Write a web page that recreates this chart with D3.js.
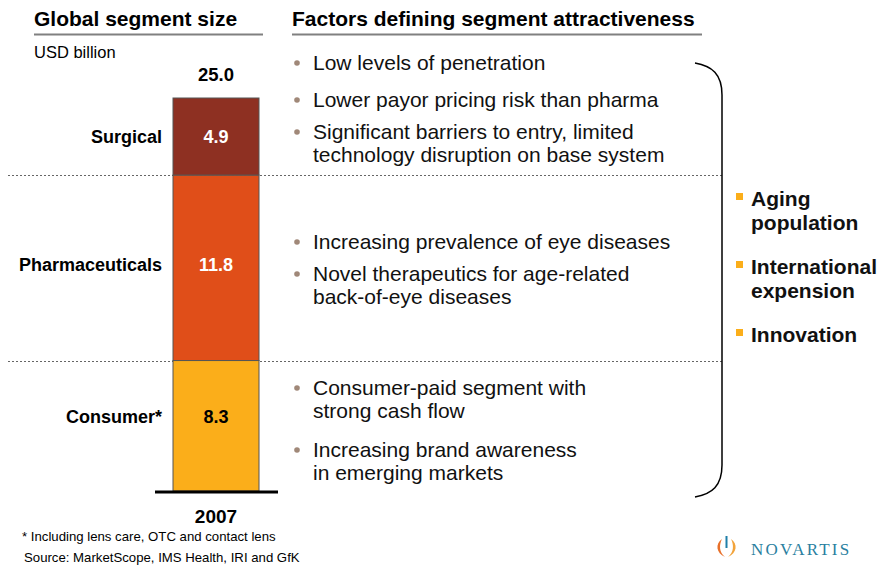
<!DOCTYPE html>
<html>
<head>
<meta charset="utf-8">
<script src="https://cdn.jsdelivr.net/npm/d3@7"></script>
<style>
  body { margin: 0; background: #fff; }
  svg { font-family: Arial, "Liberation Sans", sans-serif; }
</style>
</head>
<body>
<div id="chart"></div>
<script>
// data
var segments = ["Consumer*", "Pharmaceuticals", "Surgical"];
var segmentValues = [8.3, 11.8, 4.9];
var segmentColors = ["#FBAE1A", "#E04E19", "#8E3022"];
var valueColors = ["#000", "#fff", "#fff"];
var totalLabel = "25.0";
var yearLabel = "2007";

var surgicalFactors = [["Low levels of penetration"], ["Lower payor pricing risk than pharma"],
    ["Significant barriers to entry, limited", "technology disruption on base system"]];
var pharmaFactors = [["Increasing prevalence of eye diseases"],
    ["Novel therapeutics for age-related", "back-of-eye diseases"]];
var consumerFactors = [["Consumer-paid segment with", "strong cash flow"],
    ["Increasing brand awareness", "in emerging markets"]];
var drivers = [["Aging", "population"], ["International", "expension"], ["Innovation"]];

var svgWidth = 882;
var svgHeight = 569;

var svg = d3.select("#chart")
    .append("svg")
    .attr("width", svgWidth)
    .attr("height", svgHeight);

// headers
svg.append("text").attr("x", 34).attr("y", 26)
    .attr("font-size", 21).attr("font-weight", "bold").text("Global segment size");
svg.append("line").attr("x1", 34).attr("x2", 263).attr("y1", 34.5).attr("y2", 34.5)
    .attr("stroke", "#808080").attr("stroke-width", 2);
svg.append("text").attr("x", 292).attr("y", 26)
    .attr("font-size", 21).attr("font-weight", "bold").text("Factors defining segment attractiveness");
svg.append("line").attr("x1", 292).attr("x2", 702).attr("y1", 34.5).attr("y2", 34.5)
    .attr("stroke", "#808080").attr("stroke-width", 2);
svg.append("text").attr("x", 34).attr("y", 58)
    .attr("font-size", 16.5).text("USD billion");

// scales
var total = d3.sum(segmentValues);
var yScale = d3.scaleLinear().domain([0, total]).range([491, 98]);
var xScale = d3.scaleBand().domain([yearLabel]).range([173, 259]);

// label nudges (px) so the text sits like the original slide
var labelShift = [-9, -3, 0];

var stacked = [];
var acc = 0;
segmentValues.forEach(function (v, i) {
    stacked.push({ name: segments[i], value: v, y0: acc, y1: acc + v, color: segmentColors[i], tc: valueColors[i], shift: labelShift[i] });
    acc += v;
});

// dotted separators
stacked.slice(0, 2).forEach(function (d) {
    var y = Math.round(yScale(d.y1)) + 0.5;
    svg.append("line").attr("x1", 8).attr("x2", 722).attr("y1", y).attr("y2", y)
        .attr("stroke", "#666").attr("stroke-width", 1).attr("stroke-dasharray", "2,2");
});

var bars = svg.append("g");
bars.selectAll("rect").data(stacked).enter().append("rect")
    .attr("x", xScale(yearLabel))
    .attr("width", xScale.bandwidth())
    .attr("y", d => yScale(d.y1))
    .attr("height", d => yScale(d.y0) - yScale(d.y1))
    .attr("fill", d => d.color)
    .attr("stroke", "#555")
    .attr("stroke-width", 1);

bars.selectAll(".val").data(stacked).enter().append("text")
    .attr("x", xScale(yearLabel) + xScale.bandwidth() / 2)
    .attr("y", d => yScale((d.y0 + d.y1) / 2) + 6.5 + d.shift)
    .attr("text-anchor", "middle")
    .attr("font-size", 18).attr("font-weight", "bold")
    .attr("fill", d => d.tc)
    .text(d => d.value.toFixed(1));

bars.selectAll(".name").data(stacked).enter().append("text")
    .attr("x", 162)
    .attr("y", d => yScale((d.y0 + d.y1) / 2) + 6.5 + d.shift)
    .attr("text-anchor", "end")
    .attr("font-size", 18).attr("font-weight", "bold")
    .text(d => d.name);

// baseline
svg.append("line").attr("x1", 155).attr("x2", 278).attr("y1", yScale(0) + 1).attr("y2", yScale(0) + 1)
    .attr("stroke", "#000").attr("stroke-width", 3);

svg.append("text").attr("x", 216).attr("y", yScale(total) - 17)
    .attr("text-anchor", "middle").attr("font-size", 18.5).attr("font-weight", "bold").text(totalLabel);
svg.append("text").attr("x", 216).attr("y", 523)
    .attr("text-anchor", "middle").attr("font-size", 19).attr("font-weight", "bold").text(yearLabel);

// footnotes
svg.append("text").attr("x", 22).attr("y", 541).attr("font-size", 13.2)
    .text("* Including lens care, OTC and contact lens");
svg.append("text").attr("x", 24).attr("y", 562).attr("font-size", 13.2)
    .text("Source: MarketScope, IMS Health, IRI and GfK");

// bullet lists: items = lines per bullet, ys = baseline of each bullet
function bulletList(items, ys) {
    items.forEach(function (lines, i) {
        var y = ys[i];
        svg.append("circle").attr("cx", 297).attr("cy", y - 7).attr("r", 2.8).attr("fill", "#A08878");
        lines.forEach(function (l, j) {
            svg.append("text").attr("x", 313).attr("y", y + j * 23)
                .attr("font-size", 21).attr("fill", "#111").text(l);
        });
    });
}
bulletList(surgicalFactors, [70, 107, 139]);
bulletList(pharmaFactors, [249, 281]);
bulletList(consumerFactors, [395, 457]);

// bracket
svg.append("path")
    .attr("d", "M695,63 C712,66 722,74 722,95 L722,465 C722,486 712,494 695,497")
    .attr("fill", "none").attr("stroke", "#000").attr("stroke-width", 1.5);

// drivers
var dy = 206;
drivers.forEach(function (lines) {
    svg.append("rect").attr("x", 736).attr("y", dy - 13).attr("width", 7).attr("height", 7).attr("fill", "#FBAE1A");
    lines.forEach(function (l, j) {
        svg.append("text").attr("x", 751).attr("y", dy + j * 24)
            .attr("font-size", 21).attr("font-weight", "bold").attr("fill", "#111").text(l);
    });
    dy += (lines.length - 1) * 24 + 44;
});

// logo
var logo = svg.append("g").attr("transform", "translate(716,548)");
logo.append("path").attr("d", "M6,-9 C-1,-4 0,5 9,9 C3,4 3,-3 6,-9 Z").attr("fill", "#E8702A");
logo.append("path").attr("d", "M15,-9 C22,-4 21,5 12,9 C18,4 18,-3 15,-9 Z").attr("fill", "#F2A33A");
logo.append("rect").attr("x", 9.5).attr("y", -12).attr("width", 2).attr("height", 12).attr("fill", "#1F7FA8");
logo.append("text").attr("x", 35).attr("y", 7)
    .attr("font-family", "'Liberation Serif', 'DejaVu Serif', serif")
    .attr("font-size", 17).attr("letter-spacing", 2.2).attr("fill", "#2A7FA0").text("NOVARTIS");
</script>
</body>
</html>
